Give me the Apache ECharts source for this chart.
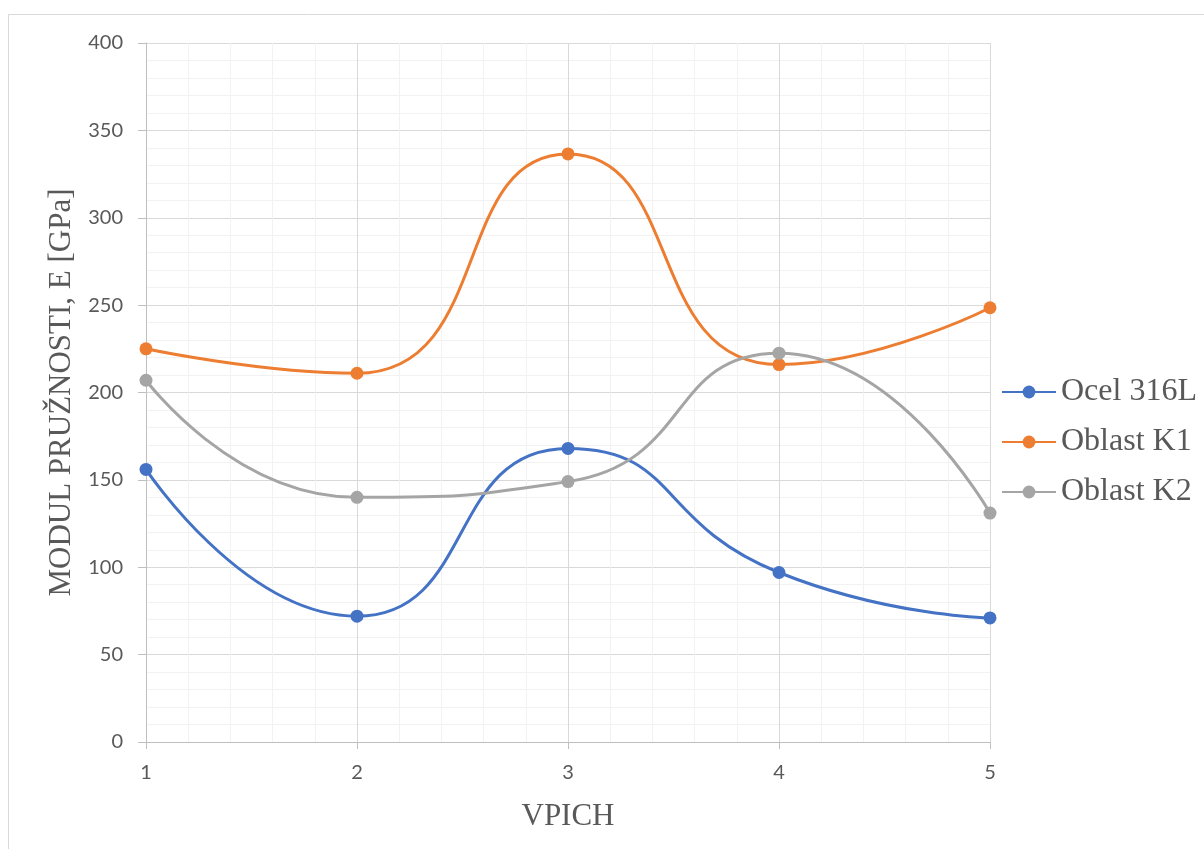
<!DOCTYPE html>
<html>
<head>
<meta charset="utf-8">
<script src="https://cdn.jsdelivr.net/npm/echarts@6/dist/echarts.min.js"></script>
<style>
  html, body { margin: 0; padding: 0; background: #fff; }
  #chart { width: 1204px; height: 849px; }
</style>
</head>
<body>
<div id="chart"></div>
<script>
// Modulus of elasticity per indentation (VPICH 1..5)
const vpich = [1, 2, 3, 4, 5];
const ocel316L = [156, 72, 168, 97, 71];
const oblastK1 = [225, 211, 336.5, 216, 248.5];
const oblastK2 = [207, 140, 149, 222.5, 131];

const seriesNames = ['Ocel 316L', 'Oblast K1', 'Oblast K2'];
const seriesColors = ['#4472C4', '#ED7D31', '#A5A5A5'];
const seriesValues = [ocel316L, oblastK1, oblastK2];

const chart = echarts.init(document.getElementById('chart'));

const series = seriesValues.map((vals, i) => ({
  name: seriesNames[i],
  type: 'line',
  smooth: 0.55,
  data: vpich.map((x, j) => [x, vals[j]]),
  symbol: 'circle',
  symbolSize: 13,
  lineStyle: { width: 3, color: seriesColors[i] },
  itemStyle: { color: seriesColors[i] },
  emphasis: { disabled: true },
  z: 3 + i
}));

chart.setOption({
  animation: false,
  backgroundColor: '#ffffff',
  graphic: [{
    type: 'rect',
    shape: { x: 8.5, y: 14.5, width: 1300, height: 900 },
    style: { fill: 'none', stroke: '#d9d9d9', lineWidth: 1 },
    silent: true
  }],
  grid: { left: 146, right: 214, top: 43, bottom: 107 },
  legend: {
    orient: 'vertical',
    left: 996,
    top: 371,
    itemGap: 18,
    itemWidth: 54,
    itemHeight: 16,
    data: seriesNames,
    textStyle: { fontFamily: 'Liberation Serif', fontSize: 32, color: '#595959' }
  },
  xAxis: {
    type: 'value',
    min: 1, max: 5, interval: 1,
    name: 'VPICH',
    nameLocation: 'middle',
    nameGap: 59,
    nameTextStyle: { fontFamily: 'Liberation Serif', fontSize: 31, color: '#595959' },
    axisLine: { show: true, lineStyle: { color: '#bfbfbf', width: 1 } },
    axisTick: { show: true, length: 7, lineStyle: { color: '#bfbfbf' } },
    axisLabel: { fontFamily: 'Lato', fontSize: 20, color: '#595959', margin: 21 },
    splitLine: { show: true, lineStyle: { color: '#d9d9d9', width: 1 } },
    minorTick: { show: false, splitNumber: 5 },
    minorSplitLine: { show: true, lineStyle: { color: '#f2f2f2', width: 1 } }
  },
  yAxis: {
    type: 'value',
    min: 0, max: 400, interval: 50,
    name: 'MODUL PRUŽNOSTI, E [GPa]',
    nameLocation: 'middle',
    nameGap: 68,
    nameTextStyle: { fontFamily: 'Liberation Serif', fontSize: 31, color: '#595959' },
    axisLine: { show: true, lineStyle: { color: '#bfbfbf', width: 1 } },
    axisTick: { show: true, length: 8, lineStyle: { color: '#bfbfbf' } },
    axisLabel: { fontFamily: 'Lato', fontSize: 20, color: '#595959', margin: 23 },
    splitLine: { show: true, lineStyle: { color: '#d9d9d9', width: 1 } },
    minorTick: { show: false, splitNumber: 5 },
    minorSplitLine: { show: true, lineStyle: { color: '#f2f2f2', width: 1 } }
  },
  series: series
});
</script>
</body>
</html>
